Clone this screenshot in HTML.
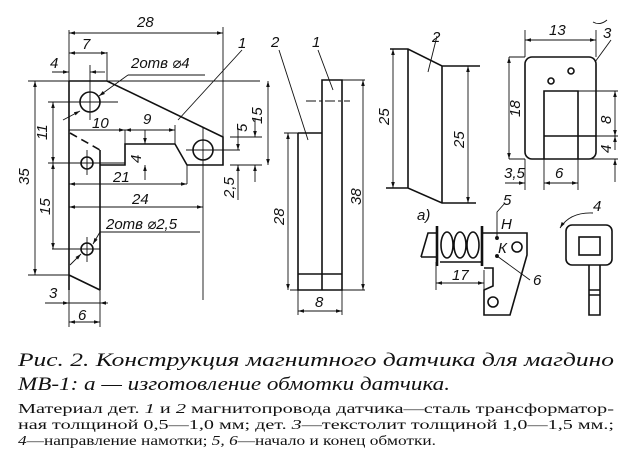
<!DOCTYPE html>
<html><head><meta charset="utf-8"><style>
html,body{margin:0;padding:0;background:#fff;width:629px;height:459px;overflow:hidden}
svg{display:block}
.l{stroke:#111;stroke-width:1.6;fill:none}
.t{stroke:#111;stroke-width:0.9;fill:none}
.d{font-family:"Liberation Sans","DejaVu Sans",sans-serif;font-style:italic;font-size:15px;fill:#111}
.c1{font-family:"Liberation Serif","DejaVu Serif",serif;font-style:italic;font-size:19px;fill:#111}
.c2{font-family:"Liberation Serif","DejaVu Serif",serif;font-size:13.5px;fill:#111}
</style></head><body>
<svg width="629" height="459" viewBox="0 0 629 459" xmlns="http://www.w3.org/2000/svg">
<defs><marker id="a" viewBox="0 0 10 6" refX="10" refY="3" markerWidth="8" markerHeight="4" orient="auto-start-reverse"><path d="M0,0L10,3L0,6z" fill="#111"/></marker></defs>

<g class="l">
<path d="M69,81 V290 M69,81 H107 L223,137 V165 H187 L175,144 H125 V165 H100 M100,150 V290 M69,275 L100,290"/>
<path d="M70,133 L100,150" stroke-dasharray="8,5"/>
<circle cx="90" cy="102" r="10"/><circle cx="87" cy="163" r="6"/><circle cx="87" cy="249" r="6"/><circle cx="203" cy="150" r="10"/>
</g>
<g class="t">
<path d="M28,81 H260 M69,30 V327 M223,27 V165 M107,52 V81 M100,290 V327"/>
<path d="M90,65 V120 M48,102 H118 M87,150 V175 M48,163 H125 M87,237 V262 M52,249 H100 M186,150 H240 M203,128 V300 M230,137 H262 M230,165 H262"/>
<path d="M69,33 H223" marker-start="url(#a)" marker-end="url(#a)"/>
<path d="M69,53 H107" marker-start="url(#a)" marker-end="url(#a)"/>
<path d="M52,72 H69" marker-end="url(#a)"/><path d="M105,72 H90" marker-end="url(#a)"/>
<path d="M35,81 V275" marker-start="url(#a)" marker-end="url(#a)"/>
<path d="M28,275 H69"/>
<path d="M53,102 V163" marker-start="url(#a)" marker-end="url(#a)"/>
<path d="M53,163 V249" marker-start="url(#a)" marker-end="url(#a)"/>
<path d="M69,130 H125" marker-end="url(#a)"/><path d="M125,130 H175" marker-start="url(#a)" marker-end="url(#a)"/>
<path d="M125,130 V144 M175,125 V144"/>
<path d="M145,130 V144" marker-end="url(#a)"/><path d="M145,180 V165" marker-end="url(#a)"/>
<path d="M69,184 H187" marker-start="url(#a)" marker-end="url(#a)"/><path d="M187,165 V184"/>
<path d="M69,207 H203" marker-start="url(#a)" marker-end="url(#a)"/>
<path d="M268,81 V165" marker-start="url(#a)" marker-end="url(#a)"/>
<path d="M255,118 V137" marker-end="url(#a)"/><path d="M255,182 V165" marker-end="url(#a)"/>
<path d="M238,128 V150" marker-end="url(#a)"/><path d="M238,200 V165" marker-end="url(#a)"/>
<path d="M45,303 H69" marker-end="url(#a)"/><path d="M108,303 H100" marker-end="url(#a)"/><path d="M69,303 H100"/>
<path d="M69,322 H100" marker-start="url(#a)" marker-end="url(#a)"/>
<path d="M128,75 L99,96" marker-end="url(#a)"/><path d="M128,75 H205"/>
<path d="M63,120 L80,111" marker-end="url(#a)"/>
<path d="M100,232 L93,244" marker-end="url(#a)"/><path d="M100,232 H200"/>
<path d="M70,265 L81,254" marker-end="url(#a)"/>
<path d="M242,50 L178,120"/>
</g>
<text class="d" x="137" y="27">28</text>
<text class="d" x="82" y="49">7</text>
<text class="d" x="50" y="68">4</text>
<text class="d" x="131" y="68">2отв ⌀4</text>
<text class="d" x="238" y="48">1</text>
<text class="d" x="92" y="128">10</text>
<text class="d" x="143" y="124">9</text>
<text class="d" x="113" y="182">21</text>
<text class="d" x="132" y="204">24</text>
<text class="d" x="106" y="229">2отв ⌀2,5</text>
<text class="d" x="49" y="298">3</text>
<text class="d" x="78" y="320">6</text>
<text class="d" transform="translate(29,185) rotate(-90)">35</text>
<text class="d" transform="translate(47,140) rotate(-90)">11</text>
<text class="d" transform="translate(50,215) rotate(-90)">15</text>
<text class="d" transform="translate(141,163) rotate(-90)">4</text>
<text class="d" transform="translate(262,124) rotate(-90)">15</text>
<text class="d" transform="translate(247,132) rotate(-90)">5</text>
<text class="d" transform="translate(234,198) rotate(-90)">2,5</text>

<g class="l"><path d="M298,133 V290 H342 V80 H322 V290 M298,133 H322 M298,274 H342"/></g>
<g class="t">
<path d="M306,101 H350" stroke-dasharray="10,3,3,3"/>
<path d="M342,80 H365 M290,290 H365 M284,133 H298 M298,290 V315 M342,290 V315"/>
<path d="M363,80 V290" marker-start="url(#a)" marker-end="url(#a)"/>
<path d="M288,133 V290" marker-start="url(#a)" marker-end="url(#a)"/>
<path d="M298,311 H342" marker-start="url(#a)" marker-end="url(#a)"/>
<path d="M279,50 L308,140 M318,50 L333,90"/>
</g>
<text class="d" x="271" y="47">2</text><text class="d" x="312" y="47">1</text>
<text class="d" x="315" y="307">8</text>
<text class="d" transform="translate(284,225) rotate(-90)">28</text>
<text class="d" transform="translate(361,205) rotate(-90)">38</text>

<g class="l"><path d="M390,49 H408 L442,66 H480 M408,49 V188 M442,66 V203 M386,188 H408 L442,203 H476"/></g>
<g class="t">
<path d="M393,49 V188" marker-start="url(#a)" marker-end="url(#a)"/>
<path d="M468,66 V203" marker-start="url(#a)" marker-end="url(#a)"/>
<path d="M437,36 L428,72"/>
</g>
<text class="d" x="432" y="42">2</text>
<text class="d" transform="translate(389,125) rotate(-90)">25</text>
<text class="d" transform="translate(464,148) rotate(-90)">25</text>

<g class="l"><rect x="525" y="57" width="71" height="102" rx="7"/><path d="M544,159 V91 H578 V159 M544,136 H596"/>
<circle cx="551" cy="81" r="3"/><circle cx="571" cy="71" r="3"/></g>
<g class="t">
<path d="M525,30 V57 M596,30 V57 M578,159 H618 M578,91 H618 M596,136 H618 M509,57 H525 M509,159 H525 M525,159 V190 M544,159 V190 M578,159 V190"/>
<path d="M525,40 H596" marker-start="url(#a)" marker-end="url(#a)"/>
<path d="M509,57 V159" marker-start="url(#a)" marker-end="url(#a)"/>
<path d="M615,91 V136" marker-start="url(#a)" marker-end="url(#a)"/>
<path d="M615,150 V136" marker-end="url(#a)"/><path d="M615,182 V159" marker-end="url(#a)"/>
<path d="M505,183 H525" marker-end="url(#a)"/>
<path d="M544,183 H578" marker-start="url(#a)" marker-end="url(#a)"/>
<path d="M611,40 L595,62"/>
<path d="M593,22 Q600,26 607,20"/>
</g>
<text class="d" x="549" y="35">13</text><text class="d" x="603" y="38">3</text>
<text class="d" x="504" y="178">3,5</text><text class="d" x="555" y="178">6</text>
<text class="d" transform="translate(520,117) rotate(-90)">18</text>
<text class="d" transform="translate(611,124) rotate(-90)">8</text>
<text class="d" transform="translate(611,153) rotate(-90)">4</text>

<g class="l">
<path d="M421,257 L428,233 H437 M421,257 H437 M482,233 H527 V255 L510,315 H484 V290 L493,286 V268 H484"/>
<path d="M437,226 V266 M482,226 V266" stroke-width="2.6"/>
<ellipse cx="447" cy="245" rx="6" ry="13"/><ellipse cx="460" cy="245" rx="6" ry="13"/><ellipse cx="473" cy="245" rx="6" ry="13"/>
<path d="M440,262 H482"/>
<circle cx="517" cy="247" r="5"/><circle cx="493" cy="302" r="5"/>
</g>
<g class="t">
<path d="M436,262 V290 M484,270 V290"/>
<path d="M436,283 H484" marker-start="url(#a)" marker-end="url(#a)"/>
<path d="M497,239 V212 L505,203 M497,256 L530,280"/>
<circle cx="497" cy="238" r="1.5" fill="#111"/><circle cx="497" cy="256" r="1.5" fill="#111"/>
</g>
<text class="d" x="417" y="220">a)</text>
<text class="d" x="503" y="205">5</text><text class="d" x="501" y="229">Н</text><text class="d" x="498" y="253">К</text>
<text class="d" x="533" y="285">6</text><text class="d" x="452" y="280">17</text>

<g class="l"><rect x="566" y="225" width="46" height="40" rx="6"/><rect x="579" y="237" width="21" height="18"/>
<path d="M589,265 V315 H600 V265 M589,290 H600 M589,295 H600"/></g>
<g class="t"><path d="M593,213 Q570,212 560,228" marker-end="url(#a)"/></g>
<text class="d" x="593" y="211">4</text>

<text class="c1" x="18" y="366" textLength="596" lengthAdjust="spacingAndGlyphs">Рис. 2. Конструкция  магнитного  датчика  для  магдино</text>
<text class="c1" x="18" y="390" textLength="432" lengthAdjust="spacingAndGlyphs">МВ-1: а — изготовление обмотки датчика.</text>
<text class="c2" x="18" y="413" textLength="596" lengthAdjust="spacingAndGlyphs">Материал дет. <tspan font-style="italic">1</tspan> и <tspan font-style="italic">2</tspan> магнитопровода датчика—сталь трансформатор-</text>
<text class="c2" x="18" y="429" textLength="596" lengthAdjust="spacingAndGlyphs">ная толщиной 0,5—1,0 мм; дет. <tspan font-style="italic">3</tspan>—текстолит  толщиной  1,0—1,5 мм.;</text>
<text class="c2" x="18" y="445" textLength="418" lengthAdjust="spacingAndGlyphs"><tspan font-style="italic">4</tspan>—направление намотки; <tspan font-style="italic">5, 6</tspan>—начало и конец обмотки.</text>
</svg>
</body></html>
